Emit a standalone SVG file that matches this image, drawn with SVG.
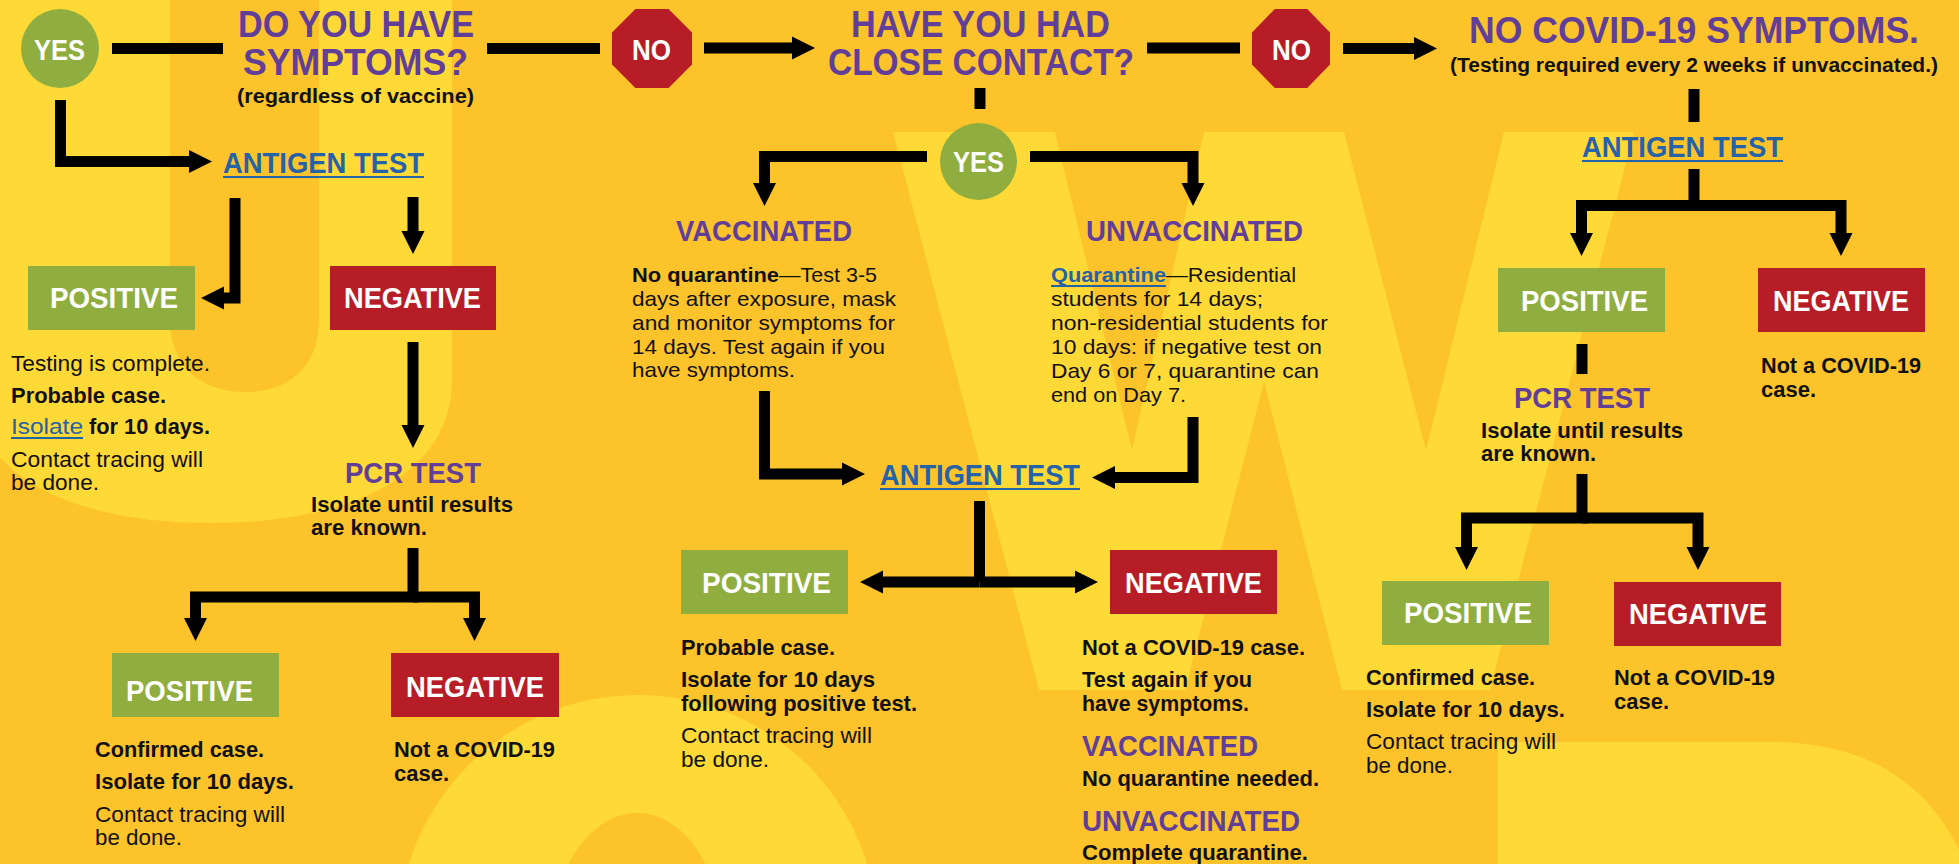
<svg xmlns="http://www.w3.org/2000/svg" width="1959" height="864" viewBox="0 0 1959 864">
<defs>
<style>
.bg{fill:#FDC32A}
.lt{fill:#FFD936}
text{font-family:"Liberation Sans Narrow","Liberation Sans",Arial,sans-serif}
.h{font-weight:700;fill:#613F99;font-size:36px}
.sh{font-weight:700;fill:#613F99;font-size:29px}
.lab{font-weight:700;fill:#fff;font-size:29px}
.lk{font-weight:700;fill:#2462A9;font-size:29px}
.b{font-weight:700;fill:#111;font-size:22px}
.r{font-weight:400;fill:#111;font-size:22px}
.rl{font-weight:400;fill:#2462A9;font-size:22px}
.pb{font-weight:700;fill:#111;font-size:21px}
.pr{font-weight:400;fill:#111;font-size:21px}
.pl{font-weight:700;fill:#2462A9;font-size:21px}
.sub{font-weight:700;fill:#111;font-size:20px}
.pos{fill:#90AD40}
.neg{fill:#B71D26}
.circ{fill:#90AD40}
.oct{fill:#B71D26}
.ul{stroke:#2462A9;stroke-width:2}
.cn path{fill:none;stroke:#000;stroke-width:11;stroke-linejoin:miter}
</style>
<marker id="ah" markerUnits="userSpaceOnUse" markerWidth="24" markerHeight="24" refX="0" refY="11.5" orient="auto" viewBox="0 0 24 24" overflow="visible">
<path d="M0,0 L23,11.5 L0,23 Z" fill="#000"/>
</marker>
</defs>

<g id="background">
<rect class="bg" x="0" y="0" width="1959" height="864"/>
<path class="lt" d="M-30,-5 H452 V380 C452,470 360,523 211,523 C62,523 -30,470 -30,380 Z"/>
<path class="bg" d="M170,-5 H319 V320 C319,365 290,392 245,392 C200,392 170,365 170,320 Z"/>
<polygon class="lt" points="893,132 1055,132 1132,450 1204,132 1344,132 1426,450 1504,132 1634,132 1490,690 1342,690 1264,382 1185,690 1039,690"/>
<path class="lt" d="M1498,870 V742 H1770 C1850,742 1920,770 1959,850 V870 Z"/>
<circle class="lt" cx="638" cy="935" r="240"/>
<ellipse class="bg" cx="637" cy="935" rx="84" ry="122"/>
</g>

<g id="connectors" class="cn">
<path d="M112,48.5 H223"/>
<path d="M487,48.5 H600"/>
<path d="M704,48 H792" marker-end="url(#ah)"/>
<path d="M1147,48 H1240"/>
<path d="M1343,48.5 H1414" marker-end="url(#ah)"/>
<path d="M60.5,100 V161.5 H189" marker-end="url(#ah)"/>
<path d="M235,198 V298 H224" marker-end="url(#ah)"/>
<path d="M413,197 V231" marker-end="url(#ah)"/>
<path d="M413,342 V425" marker-end="url(#ah)"/>
<path d="M413,548 V597 H195.5 V618" marker-end="url(#ah)"/>
<path d="M413,597 H474.5 V618" marker-end="url(#ah)"/>
<path d="M980,88 V109"/>
<path d="M927,156.5 H764.5 V183" marker-end="url(#ah)"/>
<path d="M1030,156.5 H1193 V183" marker-end="url(#ah)"/>
<path d="M764.5,391 V474 H842" marker-end="url(#ah)"/>
<path d="M1193,417 V477.5 H1115" marker-end="url(#ah)"/>
<path d="M979.5,501 V582"/>
<path d="M979.5,582 H883" marker-end="url(#ah)"/>
<path d="M979.5,582 H1075" marker-end="url(#ah)"/>
<path d="M1694,89 V122"/>
<path d="M1694,169 V205.5 H1581.5 V233" marker-end="url(#ah)"/>
<path d="M1694,205.5 H1841 V233" marker-end="url(#ah)"/>
<path d="M1582,344 V374"/>
<path d="M1582,474 V518 H1466.5 V547" marker-end="url(#ah)"/>
<path d="M1582,518 H1698 V547" marker-end="url(#ah)"/>
</g>

<g id="yes1">
<ellipse class="circ" cx="60" cy="48.5" rx="39" ry="39.5"/>
<text class="lab" x="34" y="60" textLength="51" lengthAdjust="spacingAndGlyphs">YES</text>
</g>

<g id="q-symptoms">
<text class="h" x="238" y="37" textLength="236" lengthAdjust="spacingAndGlyphs">DO YOU HAVE</text>
<text class="h" x="243" y="75" textLength="225" lengthAdjust="spacingAndGlyphs">SYMPTOMS?</text>
<text class="sub" x="237" y="103" textLength="237" lengthAdjust="spacingAndGlyphs">(regardless of vaccine)</text>
</g>

<g id="no1">
<polygon class="oct" points="635.4,9 668.6,9 692,32.4 692,64.6 668.6,88 635.4,88 612,64.6 612,32.4"/>
<text class="lab" x="632" y="60" textLength="39" lengthAdjust="spacingAndGlyphs">NO</text>
</g>

<g id="q-contact">
<text class="h" x="851" y="37" textLength="259" lengthAdjust="spacingAndGlyphs">HAVE YOU HAD</text>
<text class="h" x="828" y="75" textLength="306" lengthAdjust="spacingAndGlyphs">CLOSE CONTACT?</text>
</g>

<g id="no2">
<polygon class="oct" points="1274.8,9 1307.2,9 1330,32.4 1330,64.6 1307.2,88 1274.8,88 1252,64.6 1252,32.4"/>
<text class="lab" x="1272" y="60" textLength="39" lengthAdjust="spacingAndGlyphs">NO</text>
</g>

<g id="no-symptoms">
<text class="h" x="1469" y="43" textLength="450" lengthAdjust="spacingAndGlyphs">NO COVID-19 SYMPTOMS.</text>
<text class="sub" x="1450" y="72" textLength="488" lengthAdjust="spacingAndGlyphs">(Testing required every 2 weeks if unvaccinated.)</text>
</g>

<g id="antigen1">
<text class="lk" x="223" y="173" textLength="201" lengthAdjust="spacingAndGlyphs">ANTIGEN TEST</text>
<line class="ul" x1="223" y1="177" x2="424" y2="177"/>
</g>

<g id="positive1">
<rect class="pos" x="28" y="266" width="167" height="64"/>
<text class="lab" x="50" y="308" textLength="128" lengthAdjust="spacingAndGlyphs">POSITIVE</text>
<text class="r" x="11" y="371" textLength="199" lengthAdjust="spacingAndGlyphs">Testing is complete.</text>
<text class="b" x="11" y="403" textLength="155" lengthAdjust="spacingAndGlyphs">Probable case.</text>
<text class="rl" x="11" y="434" textLength="72" lengthAdjust="spacingAndGlyphs">Isolate</text>
<line class="ul" x1="11" y1="438" x2="83" y2="438"/>
<text class="b" x="89" y="434" textLength="121" lengthAdjust="spacingAndGlyphs">for 10 days.</text>
<text class="r" x="11" y="467" textLength="192" lengthAdjust="spacingAndGlyphs">Contact tracing will</text>
<text class="r" x="11" y="490" textLength="88" lengthAdjust="spacingAndGlyphs">be done.</text>
</g>

<g id="negative1">
<rect class="neg" x="330" y="266" width="166" height="64"/>
<text class="lab" x="344" y="308" textLength="137" lengthAdjust="spacingAndGlyphs">NEGATIVE</text>
</g>

<g id="pcr1">
<text class="sh" x="345" y="483" textLength="136" lengthAdjust="spacingAndGlyphs">PCR TEST</text>
<text class="b" x="311" y="512" textLength="202" lengthAdjust="spacingAndGlyphs">Isolate until results</text>
<text class="b" x="311" y="535" textLength="116" lengthAdjust="spacingAndGlyphs">are known.</text>
</g>

<g id="positive2">
<rect class="pos" x="112" y="653" width="167" height="64"/>
<text class="lab" x="126" y="701" textLength="127" lengthAdjust="spacingAndGlyphs">POSITIVE</text>
<text class="b" x="95" y="757" textLength="169" lengthAdjust="spacingAndGlyphs">Confirmed case.</text>
<text class="b" x="95" y="789" textLength="199" lengthAdjust="spacingAndGlyphs">Isolate for 10 days.</text>
<text class="r" x="95" y="822" textLength="190" lengthAdjust="spacingAndGlyphs">Contact tracing will</text>
<text class="r" x="95" y="845" textLength="87" lengthAdjust="spacingAndGlyphs">be done.</text>
</g>

<g id="negative2">
<rect class="neg" x="391" y="653" width="168" height="64"/>
<text class="lab" x="406" y="697" textLength="138" lengthAdjust="spacingAndGlyphs">NEGATIVE</text>
<text class="b" x="394" y="757" textLength="161" lengthAdjust="spacingAndGlyphs">Not a COVID-19</text>
<text class="b" x="394" y="781" textLength="55" lengthAdjust="spacingAndGlyphs">case.</text>
</g>

<g id="yes2">
<ellipse class="circ" cx="978.5" cy="161.5" rx="38.5" ry="38.5"/>
<text class="lab" x="953" y="172" textLength="51" lengthAdjust="spacingAndGlyphs">YES</text>
</g>

<g id="vaccinated">
<text class="sh" x="676" y="241" textLength="176" lengthAdjust="spacingAndGlyphs">VACCINATED</text>
<text class="pb" x="632" y="282" textLength="147" lengthAdjust="spacingAndGlyphs">No quarantine</text>
<text class="pr" x="779" y="282" textLength="98" lengthAdjust="spacingAndGlyphs">—Test 3-5</text>
<text class="pr" x="632" y="306" textLength="264" lengthAdjust="spacingAndGlyphs">days after exposure, mask</text>
<text class="pr" x="632" y="330" textLength="263" lengthAdjust="spacingAndGlyphs">and monitor symptoms for</text>
<text class="pr" x="632" y="354" textLength="253" lengthAdjust="spacingAndGlyphs">14 days. Test again if you</text>
<text class="pr" x="632" y="377" textLength="163" lengthAdjust="spacingAndGlyphs">have symptoms.</text>
</g>

<g id="unvaccinated">
<text class="sh" x="1086" y="241" textLength="217" lengthAdjust="spacingAndGlyphs">UNVACCINATED</text>
<text class="pl" x="1051" y="282" textLength="115" lengthAdjust="spacingAndGlyphs">Quarantine</text>
<line class="ul" x1="1051" y1="286" x2="1166" y2="286"/>
<text class="pr" x="1166" y="282" textLength="130" lengthAdjust="spacingAndGlyphs">—Residential</text>
<text class="pr" x="1051" y="306" textLength="212" lengthAdjust="spacingAndGlyphs">students for 14 days;</text>
<text class="pr" x="1051" y="330" textLength="277" lengthAdjust="spacingAndGlyphs">non-residential students for</text>
<text class="pr" x="1051" y="354" textLength="271" lengthAdjust="spacingAndGlyphs">10 days: if negative test on</text>
<text class="pr" x="1051" y="378" textLength="268" lengthAdjust="spacingAndGlyphs">Day 6 or 7, quarantine can</text>
<text class="pr" x="1051" y="402" textLength="135" lengthAdjust="spacingAndGlyphs">end on Day 7.</text>
</g>

<g id="antigen2">
<text class="lk" x="880" y="485" textLength="200" lengthAdjust="spacingAndGlyphs">ANTIGEN TEST</text>
<line class="ul" x1="880" y1="489" x2="1080" y2="489"/>
</g>

<g id="positive3">
<rect class="pos" x="681" y="550" width="167" height="64"/>
<text class="lab" x="702" y="593" textLength="129" lengthAdjust="spacingAndGlyphs">POSITIVE</text>
<text class="b" x="681" y="655" textLength="154" lengthAdjust="spacingAndGlyphs">Probable case.</text>
<text class="b" x="681" y="687" textLength="194" lengthAdjust="spacingAndGlyphs">Isolate for 10 days</text>
<text class="b" x="681" y="711" textLength="236" lengthAdjust="spacingAndGlyphs">following positive test.</text>
<text class="r" x="681" y="743" textLength="191" lengthAdjust="spacingAndGlyphs">Contact tracing will</text>
<text class="r" x="681" y="767" textLength="88" lengthAdjust="spacingAndGlyphs">be done.</text>
</g>

<g id="negative3">
<rect class="neg" x="1110" y="550" width="167" height="64"/>
<text class="lab" x="1125" y="593" textLength="137" lengthAdjust="spacingAndGlyphs">NEGATIVE</text>
<text class="b" x="1082" y="655" textLength="223" lengthAdjust="spacingAndGlyphs">Not a COVID-19 case.</text>
<text class="b" x="1082" y="687" textLength="170" lengthAdjust="spacingAndGlyphs">Test again if you</text>
<text class="b" x="1082" y="711" textLength="167" lengthAdjust="spacingAndGlyphs">have symptoms.</text>
<text class="sh" x="1082" y="756" textLength="176" lengthAdjust="spacingAndGlyphs">VACCINATED</text>
<text class="b" x="1082" y="786" textLength="237" lengthAdjust="spacingAndGlyphs">No quarantine needed.</text>
<text class="sh" x="1082" y="831" textLength="218" lengthAdjust="spacingAndGlyphs">UNVACCINATED</text>
<text class="b" x="1082" y="860" textLength="226" lengthAdjust="spacingAndGlyphs">Complete quarantine.</text>
</g>

<g id="antigen3">
<text class="lk" x="1582" y="157" textLength="201" lengthAdjust="spacingAndGlyphs">ANTIGEN TEST</text>
<line class="ul" x1="1582" y1="161" x2="1783" y2="161"/>
</g>

<g id="positive4">
<rect class="pos" x="1498" y="268" width="167" height="64"/>
<text class="lab" x="1521" y="311" textLength="127" lengthAdjust="spacingAndGlyphs">POSITIVE</text>
</g>

<g id="negative4">
<rect class="neg" x="1758" y="268" width="167" height="64"/>
<text class="lab" x="1773" y="311" textLength="136" lengthAdjust="spacingAndGlyphs">NEGATIVE</text>
<text class="b" x="1761" y="373" textLength="160" lengthAdjust="spacingAndGlyphs">Not a COVID-19</text>
<text class="b" x="1761" y="397" textLength="55" lengthAdjust="spacingAndGlyphs">case.</text>
</g>

<g id="pcr2">
<text class="sh" x="1514" y="408" textLength="136" lengthAdjust="spacingAndGlyphs">PCR TEST</text>
<text class="b" x="1481" y="438" textLength="202" lengthAdjust="spacingAndGlyphs">Isolate until results</text>
<text class="b" x="1481" y="461" textLength="115" lengthAdjust="spacingAndGlyphs">are known.</text>
</g>

<g id="positive5">
<rect class="pos" x="1382" y="581" width="167" height="64"/>
<text class="lab" x="1404" y="623" textLength="128" lengthAdjust="spacingAndGlyphs">POSITIVE</text>
<text class="b" x="1366" y="685" textLength="169" lengthAdjust="spacingAndGlyphs">Confirmed case.</text>
<text class="b" x="1366" y="717" textLength="199" lengthAdjust="spacingAndGlyphs">Isolate for 10 days.</text>
<text class="r" x="1366" y="749" textLength="190" lengthAdjust="spacingAndGlyphs">Contact tracing will</text>
<text class="r" x="1366" y="773" textLength="87" lengthAdjust="spacingAndGlyphs">be done.</text>
</g>

<g id="negative5">
<rect class="neg" x="1614" y="582" width="167" height="64"/>
<text class="lab" x="1629" y="624" textLength="138" lengthAdjust="spacingAndGlyphs">NEGATIVE</text>
<text class="b" x="1614" y="685" textLength="161" lengthAdjust="spacingAndGlyphs">Not a COVID-19</text>
<text class="b" x="1614" y="709" textLength="55" lengthAdjust="spacingAndGlyphs">case.</text>
</g>
</svg>
